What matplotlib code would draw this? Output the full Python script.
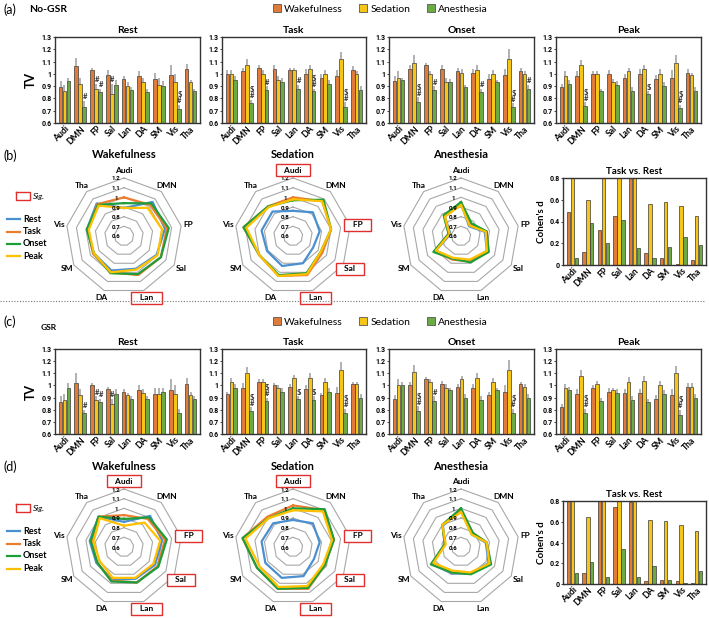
import numpy as np
import matplotlib
matplotlib.use("Agg")
import matplotlib.pyplot as plt
from matplotlib.patches import Patch
from matplotlib.lines import Line2D
from matplotlib.ticker import FormatStrFormatter

plt.rcParams['font.family'] = ['Lato', 'DejaVu Sans']

W, H = 709, 618

networks = ["Audi", "DMN", "FP", "Sal", "Lan", "DA", "SM", "Vis", "Tha"]
states = ["Wakefulness", "Sedation", "Anesthesia"]
conditions = ["Rest", "Task", "Onset", "Peak"]

# TV values, rows = wakefulness, sedation, anesthesia
# (a) No-GSR
tv_a_rest = [[0.89, 1.06, 1.03, 0.99, 0.96, 0.98, 0.96, 0.99, 1.04],
             [0.86, 0.92, 0.88, 0.84, 0.90, 0.93, 0.91, 0.93, 0.93],
             [0.94, 0.73, 0.85, 0.91, 0.87, 0.85, 0.90, 0.71, 0.86]]
tv_a_task = [[1.00, 1.02, 1.05, 1.04, 1.03, 1.00, 0.97, 0.98, 1.03],
             [1.00, 1.07, 1.00, 0.95, 1.03, 1.04, 1.00, 1.12, 1.00],
             [0.95, 0.76, 0.87, 0.93, 0.88, 0.86, 0.92, 0.73, 0.87]]
tv_a_onset = [[0.94, 1.04, 1.07, 1.04, 1.02, 1.01, 0.96, 0.99, 1.02],
              [0.97, 1.09, 1.00, 0.93, 1.01, 1.03, 1.00, 1.12, 1.00],
              [0.95, 0.77, 0.87, 0.93, 0.89, 0.85, 0.93, 0.73, 0.88]]
tv_a_peak = [[0.89, 0.98, 1.00, 1.00, 0.97, 1.00, 0.96, 0.97, 1.01],
             [0.98, 1.07, 1.00, 0.93, 1.02, 1.04, 1.00, 1.09, 0.99],
             [0.92, 0.74, 0.86, 0.91, 0.86, 0.84, 0.90, 0.72, 0.86]]

err_a_rest = [[0.05, 0.07, 0.02, 0.04, 0.02, 0.04, 0.05, 0.08, 0.04],
              [0.05, 0.05, 0.04, 0.08, 0.03, 0.04, 0.06, 0.07, 0.02],
              [0.03, 0.05, 0.03, 0.04, 0.02, 0.03, 0.04, 0.04, 0.02]]
err_a_task = [[0.03, 0.03, 0.02, 0.03, 0.02, 0.04, 0.03, 0.05, 0.03],
              [0.03, 0.05, 0.03, 0.03, 0.02, 0.03, 0.03, 0.06, 0.02],
              [0.03, 0.03, 0.03, 0.04, 0.03, 0.02, 0.03, 0.04, 0.03]]
err_a_onset = [[0.04, 0.03, 0.02, 0.03, 0.03, 0.03, 0.04, 0.05, 0.03],
               [0.05, 0.06, 0.02, 0.04, 0.03, 0.04, 0.03, 0.08, 0.02],
               [0.02, 0.04, 0.03, 0.03, 0.02, 0.03, 0.02, 0.03, 0.03]]
err_a_peak = [[0.03, 0.04, 0.02, 0.03, 0.03, 0.04, 0.03, 0.06, 0.03],
              [0.04, 0.04, 0.02, 0.03, 0.03, 0.03, 0.04, 0.06, 0.02],
              [0.03, 0.03, 0.02, 0.03, 0.03, 0.02, 0.03, 0.03, 0.03]]

# (c) GSR
tv_c_rest = [[0.86, 1.02, 1.00, 0.97, 0.95, 0.96, 0.93, 0.96, 1.01],
             [0.88, 0.92, 0.88, 0.85, 0.92, 0.94, 0.93, 0.93, 0.92],
             [0.98, 0.77, 0.86, 0.93, 0.89, 0.89, 0.95, 0.77, 0.89]]
tv_c_task = [[0.93, 0.98, 1.03, 1.00, 0.99, 0.97, 0.92, 0.94, 1.01],
             [1.03, 1.10, 1.03, 0.98, 1.06, 1.06, 1.03, 1.13, 1.01],
             [0.98, 0.79, 0.87, 0.95, 0.89, 0.88, 0.95, 0.77, 0.90]]
tv_c_onset = [[0.89, 1.00, 1.05, 1.01, 0.99, 0.98, 0.92, 0.95, 1.01],
              [1.00, 1.11, 1.03, 0.98, 1.05, 1.06, 1.03, 1.13, 0.99],
              [1.00, 0.79, 0.87, 0.96, 0.90, 0.88, 0.96, 0.77, 0.90]]
tv_c_peak = [[0.82, 0.93, 0.98, 0.95, 0.94, 0.94, 0.89, 0.92, 0.99],
             [0.98, 1.08, 1.01, 0.96, 1.03, 1.04, 1.00, 1.10, 0.99],
             [0.96, 0.77, 0.87, 0.94, 0.88, 0.86, 0.93, 0.76, 0.90]]

err_c_rest = [[0.05, 0.08, 0.02, 0.02, 0.02, 0.04, 0.05, 0.09, 0.05],
              [0.05, 0.05, 0.03, 0.04, 0.02, 0.03, 0.05, 0.07, 0.03],
              [0.04, 0.03, 0.03, 0.04, 0.02, 0.02, 0.03, 0.04, 0.02]]
err_c_task = [[0.02, 0.04, 0.02, 0.02, 0.02, 0.03, 0.02, 0.05, 0.02],
              [0.03, 0.05, 0.02, 0.02, 0.03, 0.04, 0.03, 0.06, 0.02],
              [0.03, 0.03, 0.03, 0.03, 0.02, 0.03, 0.03, 0.04, 0.03]]
err_c_onset = [[0.03, 0.03, 0.02, 0.03, 0.02, 0.03, 0.03, 0.05, 0.02],
               [0.05, 0.06, 0.02, 0.03, 0.03, 0.04, 0.03, 0.08, 0.02],
               [0.03, 0.04, 0.04, 0.02, 0.03, 0.03, 0.02, 0.04, 0.03]]
err_c_peak = [[0.03, 0.04, 0.02, 0.03, 0.03, 0.03, 0.03, 0.05, 0.03],
              [0.03, 0.05, 0.03, 0.02, 0.04, 0.04, 0.04, 0.06, 0.03],
              [0.03, 0.04, 0.03, 0.03, 0.03, 0.03, 0.03, 0.04, 0.03]]

# significance marks: (network index, state index, text)
marks_a_rest = [(1, 2, "#"), (2, 1, "#"), (2, 2, "#"), (3, 1, "#"), (7, 2, "$\n#")]
marks_a_task = [(1, 2, "$\n#"), (2, 2, "#"), (4, 2, "#"), (5, 2, "$\n#"), (7, 2, "$\n#")]
marks_a_onset = [(1, 2, "$\n#"), (2, 2, "#"), (5, 2, "#"), (7, 2, "$\n#"), (8, 2, "#")]
marks_a_peak = [(1, 2, "$\n#"), (5, 2, "$"), (7, 2, "$\n#")]
marks_c_rest = [(1, 2, "#"), (2, 1, "#"), (2, 2, "#"), (3, 1, "#")]
marks_c_task = [(1, 2, "$\n#"), (2, 2, "$\n#"), (4, 2, "$"), (5, 2, "$"), (7, 2, "$\n#")]
marks_c_onset = [(1, 2, "$\n#"), (2, 2, "#"), (7, 2, "$\n#")]
marks_c_peak = [(1, 2, "$\n#"), (7, 2, "$\n#")]

# Cohen's d, task vs. rest (values above 0.8 run off the axis)
cohen_b = [[0.49, 0.12, 0.32, 0.45, 0.95, 0.11, 0.06, 0.005, 0.05],
           [0.92, 0.60, 0.90, 0.88, 1.00, 0.56, 0.58, 0.54, 0.45],
           [0.06, 0.39, 0.20, 0.41, 0.16, 0.06, 0.17, 0.26, 0.18]]
cohen_d = [[0.85, 0.11, 0.95, 0.74, 0.79, 0.03, 0.04, 0.03, 0.005],
           [0.95, 0.65, 1.00, 0.90, 0.92, 0.62, 0.61, 0.57, 0.51],
           [0.11, 0.21, 0.07, 0.34, 0.07, 0.17, 0.04, 0.005, 0.13]]

# networks framed in red (significant)
sig_b = {"Wakefulness": ["Lan"], "Sedation": ["Audi", "FP", "Sal", "Lan"], "Anesthesia": []}
sig_d = {"Wakefulness": ["Audi", "FP", "Sal", "Lan"], "Sedation": ["Audi", "FP", "Sal", "Lan"],
         "Anesthesia": []}

bar_colors = ["#E07B39", "#F5C518", "#6CAA45"]
line_colors = ["#4A8FD0", "#ED7D31", "#1E9E3A", "#FFC000"]
ring_levels = [0.6, 0.7, 0.8, 0.9, 1.0, 1.1, 1.2]
num_font = "Roboto"

fig = plt.figure(figsize=(W / 100, H / 100), dpi=100)


def px_axes(x0, y0, x1, y1, **kw):
    return fig.add_axes([x0 / W, 1 - y1 / H, (x1 - x0) / W, (y1 - y0) / H], **kw)


def ftext(x, y, s, **kw):
    return fig.text(x / W, 1 - y / H, s, **kw)


x = np.arange(len(networks))
offs = [-0.25, 0, 0.25]


def style_box(ax):
    for sp in ax.spines.values():
        sp.set_linewidth(1.0)
        sp.set_color("#333333")
    ax.tick_params(axis="y", length=1.5, width=0.5, pad=1, labelsize=5)
    ax.tick_params(axis="x", length=0, pad=1, labelsize=6.2)
    ax.set_xticks(x)
    ax.set_xticklabels(networks, rotation=45, ha="right", rotation_mode="anchor",
                       fontweight="bold")
    for t in ax.get_yticklabels():
        t.set_fontweight("bold")
        t.set_family(num_font)
    ax.set_xlim(-0.6, 8.6)


def draw_tv(box, tv, err, marks, title, ylabel=False):
    ax = px_axes(*box)
    for i in range(3):
        ax.bar(x + offs[i], tv[i], 0.24, bottom=0, color=bar_colors[i],
               edgecolor="#3a3a3a", linewidth=0.5, zorder=2)
        ax.errorbar(x + offs[i], tv[i], yerr=[np.zeros(9), err[i]], fmt="none",
                    ecolor="#ABABAB", elinewidth=1.3, capsize=0, zorder=1)
    for n, s, txt in marks:
        ax.text(x[n] + offs[s] + 0.05, tv[s][n] + err[s][n] + 0.004, txt,
                ha="center", va="bottom", fontsize=5.5, fontweight="bold",
                linespacing=0.8, color="#333333")
    ax.set_ylim(0.6, 1.3)
    ax.set_yticks([0.6, 0.7, 0.8, 0.9, 1.0, 1.1, 1.2, 1.3])
    ax.yaxis.set_major_formatter(FormatStrFormatter("%g"))
    style_box(ax)
    ax.set_title(title, fontsize=7.5, fontweight="bold", pad=3)
    if ylabel:
        ax.set_ylabel("TV", fontsize=9, fontweight="bold", labelpad=3)
    return ax


def draw_cohen(box, vals):
    ax = px_axes(*box)
    for i in range(3):
        ax.bar(x + offs[i], vals[i], 0.22, color=bar_colors[i],
               edgecolor="#3a3a3a", linewidth=0.5)
    ax.set_ylim(0, 0.8)
    ax.set_yticks([0, 0.2, 0.4, 0.6, 0.8])
    ax.yaxis.set_major_formatter(FormatStrFormatter("%g"))
    style_box(ax)
    ax.set_title("Task vs. Rest", fontsize=7, fontweight="bold", pad=3)
    ax.set_ylabel("Cohen's d", fontsize=7, fontweight="bold", labelpad=2)
    return ax


theta = np.linspace(0, 2 * np.pi, len(networks), endpoint=False)
theta_c = np.append(theta, theta[0])
R = 58


def draw_radar(cx, cy, series, title, title_y, sig):
    ax = px_axes(cx - R, cy - R, cx + R, cy + R, projection="polar")
    ax.set_theta_zero_location("N")
    ax.set_theta_direction(-1)
    ax.set_ylim(0.6, 1.2)
    ax.set_xticks([])
    ax.set_yticks([])
    ax.grid(False)
    ax.spines["polar"].set_visible(False)
    ax.patch.set_alpha(0)
    for r in ring_levels[1:]:
        ax.plot(theta_c, [r] * 10, color="#A8A8A8", lw=0.8, clip_on=False, zorder=1)
    for vals, c in zip(series, line_colors):
        ax.plot(theta_c, list(vals) + [vals[0]], color=c, lw=1.6, clip_on=False, zorder=3)
    for r in ring_levels:
        ax.annotate(f"{r:g}", xy=(0, r), xytext=(-8, -1), textcoords="offset pixels",
                    ha="center", va="center", fontsize=4.4, fontweight="bold",
                    family=num_font, zorder=5)
    for t, name in zip(theta, networks):
        if name in sig:
            ax.text(t, 1.28, "   " + name + "   ", ha="center", va="center", fontsize=6,
                    fontweight="bold", zorder=6,
                    bbox=dict(boxstyle="square,pad=0.3", fc="white", ec="#E0302E", lw=1.0))
        else:
            ax.text(t, 1.28, name, ha="center", va="center", fontsize=6,
                    fontweight="bold", zorder=6)
    ftext(cx, title_y, title, ha="center", va="center", fontsize=8, fontweight="bold")
    return ax


def radar_legend(y0):
    sig_line = Line2D([16 / W, 30 / W, 30 / W, 16 / W, 16 / W],
                      [1 - (y0 - 4) / H, 1 - (y0 - 4) / H, 1 - (y0 + 4) / H,
                       1 - (y0 + 4) / H, 1 - (y0 - 4) / H],
                      transform=fig.transFigure, color="#E0302E", lw=1.0)
    fig.add_artist(sig_line)
    ftext(33, y0, "Sig.", ha="left", va="center", fontsize=6, style="italic")
    for k, (name, c) in enumerate(zip(conditions, line_colors)):
        yy = y0 + 23 + k * 12.5
        fig.add_artist(Line2D([7 / W, 20 / W], [1 - yy / H, 1 - yy / H],
                              transform=fig.transFigure, color=c, lw=1.6))
        ftext(23, yy, name, ha="left", va="center", fontsize=6.5, fontweight="bold")


def state_legend(y):
    handles = [Patch(facecolor=c, edgecolor="#555555", linewidth=0.6) for c in bar_colors]
    fig.legend(handles, states, loc="center left", bbox_to_anchor=(273 / W, 1 - y / H),
               ncol=3, frameon=False, fontsize=7.5, handlelength=0.75, handleheight=0.75,
               handletextpad=0.3, columnspacing=1.6, borderaxespad=0, borderpad=0)


bar_x = [(55, 200), (222, 366), (389, 534), (556, 701)]

# (a) No-GSR
ftext(4, 10, "(a)", fontsize=9, va="center")
ftext(29, 10, "No-GSR", fontsize=7.5, fontweight="bold", va="center")
state_legend(9)
for k, (tv, er, mk) in enumerate(zip([tv_a_rest, tv_a_task, tv_a_onset, tv_a_peak],
                                     [err_a_rest, err_a_task, err_a_onset, err_a_peak],
                                     [marks_a_rest, marks_a_task, marks_a_onset, marks_a_peak])):
    draw_tv((bar_x[k][0], 37, bar_x[k][1], 123), tv, er, mk, conditions[k], ylabel=(k == 0))

# (b) radars, No-GSR
ftext(4, 156, "(b)", fontsize=9, va="center")
radar_legend(196)
centers = [124, 293, 461]
tv_a_all = [tv_a_rest, tv_a_task, tv_a_onset, tv_a_peak]
for s, st in enumerate(states):
    draw_radar(centers[s], 236, [tv[s] for tv in tv_a_all], st, 155, sig_b[st])
draw_cohen((563, 178, 706, 265), cohen_b)

# separator
fig.add_artist(Line2D([0, 0.995], [1 - 301 / H, 1 - 301 / H], transform=fig.transFigure,
                      color="#777777", lw=0.8, ls=(0, (1, 1.5))))

# (c) GSR
ftext(4, 322, "(c)", fontsize=9, va="center")
ftext(41, 327, "GSR", fontsize=6, fontweight="bold", va="center")
state_legend(322)
for k, (tv, er, mk) in enumerate(zip([tv_c_rest, tv_c_task, tv_c_onset, tv_c_peak],
                                     [err_c_rest, err_c_task, err_c_onset, err_c_peak],
                                     [marks_c_rest, marks_c_task, marks_c_onset, marks_c_peak])):
    draw_tv((bar_x[k][0], 349, bar_x[k][1], 434), tv, er, mk, conditions[k], ylabel=(k == 0))

# (d) radars, GSR
ftext(4, 467, "(d)", fontsize=9, va="center")
radar_legend(508)
tv_c_all = [tv_c_rest, tv_c_task, tv_c_onset, tv_c_peak]
for s, st in enumerate(states):
    draw_radar(centers[s], 547, [tv[s] for tv in tv_c_all], st, 466, sig_d[st])
draw_cohen((563, 501, 706, 584), cohen_d)

fig.savefig("out.png", dpi=100)
